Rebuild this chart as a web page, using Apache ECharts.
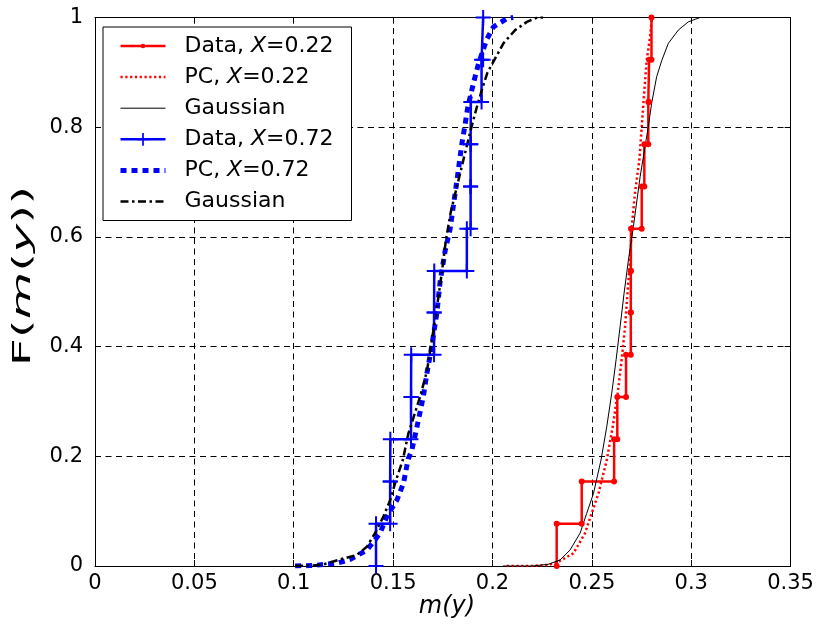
<!DOCTYPE html>
<html>
<head>
<meta charset="utf-8">
<script src="https://cdn.jsdelivr.net/npm/echarts@6/dist/echarts.min.js"></script>
<style>
  html, body { margin: 0; padding: 0; background: #ffffff; }
  #chart { width: 821px; height: 626px; }
</style>
</head>
<body>
<div id="chart"></div>
<script>
// Empirical CDF levels for 13 samples
const cdfLevels = [0, 0.077, 0.154, 0.231, 0.308, 0.385, 0.462, 0.538, 0.615, 0.692, 0.769, 0.846, 0.923, 1];

// Sorted sample values, X = 0.22 and X = 0.72
const dataX022 = [0.2323, 0.2449, 0.2612, 0.2628, 0.2672, 0.2696, 0.2696, 0.2697, 0.2751, 0.2764, 0.2784, 0.2788, 0.2800];
const dataX072 = [0.1414, 0.1485, 0.1486, 0.1590, 0.1591, 0.1706, 0.1707, 0.1871, 0.1890, 0.1890, 0.1891, 0.1945, 0.1953];

// Polynomial chaos CDF, X = 0.22
const pcX022 = [0.2072, 0.2200, 0.2280, 0.2323, 0.2407, 0.2466, 0.2499, 0.2533, 0.2575, 0.2605, 0.2630, 0.2650, 0.2667, 0.2679, 0.2692, 0.2701, 0.2717, 0.2739, 0.2751, 0.2763, 0.2776, 0.2793, 0.2801, 0.2810];
const pcF022 = [0, 0, 0.002, 0.006, 0.023, 0.060, 0.096, 0.132, 0.193, 0.254, 0.315, 0.376, 0.436, 0.497, 0.558, 0.619, 0.680, 0.740, 0.801, 0.862, 0.922, 0.965, 0.995, 1.0];

// Gaussian CDF, X = 0.22
const gaussX022 = [0.2053, 0.2200, 0.2280, 0.2340, 0.2390, 0.2441, 0.2474, 0.2508, 0.2546, 0.2575, 0.2600, 0.2622, 0.2642, 0.2662, 0.2684, 0.2709, 0.2743, 0.2784, 0.2801, 0.2826, 0.2852, 0.2885, 0.2935, 0.2985, 0.3044];
const gaussF022 = [0, 0, 0.003, 0.011, 0.029, 0.060, 0.096, 0.132, 0.193, 0.254, 0.315, 0.376, 0.436, 0.497, 0.558, 0.619, 0.710, 0.801, 0.844, 0.892, 0.922, 0.953, 0.977, 0.992, 1.0];

// Polynomial chaos CDF, X = 0.72
const pcX072 = [0.1007, 0.1100, 0.1217, 0.1284, 0.1368, 0.1435, 0.1468, 0.1519, 0.1552, 0.1576, 0.1594, 0.1615, 0.1652, 0.1670, 0.1694, 0.1720, 0.1737, 0.1762, 0.1787, 0.1820, 0.1846, 0.1860, 0.1875, 0.1904, 0.1929, 0.1971, 0.2005, 0.2072, 0.2104];
const pcF072 = [0, 0.001, 0.005, 0.012, 0.029, 0.060, 0.090, 0.120, 0.151, 0.195, 0.211, 0.245, 0.309, 0.351, 0.400, 0.461, 0.520, 0.575, 0.615, 0.700, 0.770, 0.800, 0.835, 0.880, 0.915, 0.960, 0.983, 0.998, 1.0];

// Gaussian CDF, X = 0.72
const gaussX072 = [0.1007, 0.1100, 0.1150, 0.1233, 0.1317, 0.1368, 0.1409, 0.1451, 0.1485, 0.1510, 0.1550, 0.1577, 0.1602, 0.1636, 0.1670, 0.1692, 0.1720, 0.1745, 0.1766, 0.1790, 0.1820, 0.1850, 0.1875, 0.1894, 0.1920, 0.1950, 0.1975, 0.2013, 0.2055, 0.2114, 0.2173, 0.2225, 0.2254];
const gaussF072 = [0, 0.001, 0.003, 0.012, 0.020, 0.035, 0.060, 0.090, 0.120, 0.151, 0.195, 0.242, 0.270, 0.309, 0.355, 0.405, 0.470, 0.535, 0.595, 0.645, 0.690, 0.735, 0.772, 0.800, 0.835, 0.872, 0.900, 0.925, 0.953, 0.977, 0.992, 1.0, 1.0];

// Axis ticks
const xTicks = [0, 0.05, 0.1, 0.15, 0.2, 0.25, 0.3, 0.35];
const yTicks = [0, 0.2, 0.4, 0.6, 0.8, 1];

// Staircase corners of an empirical CDF: a vertical jump at every sample
function stairs(xs, levels) {
  const pts = [];
  xs.forEach((x, i) => {
    pts.push([x, levels[i]]);
    pts.push([x, levels[i + 1]]);
  });
  return pts;
}
function pairs(xs, fs) {
  return xs.map((x, i) => [x, fs[i]]);
}

// Marker shapes: small dot with padding around it, and a plus sign
const dotSymbol = 'path://M0,0M20,20M10,6.5a3.5,3.5 0 1,1 0,7a3.5,3.5 0 1,1 0,-7z';
const plusSymbol = 'path://M6.5,0h2v6.5h6.5v2h-6.5v6.5h-2v-6.5h-6.5v-2h6.5z';

const FONT = 'DejaVu Sans';
const RED = '#ff0000';
const BLUE = '#0000ff';

const chart = echarts.init(document.getElementById('chart'), null, { renderer: 'canvas' });

const labelStyle = { fontFamily: FONT, fontSize: 21, color: '#000' };

chart.setOption({
  backgroundColor: '#ffffff',
  animation: false,
  grid: { left: 95, right: 30.4, top: 17.5, bottom: 60, containLabel: false },
  xAxis: [
    {
      type: 'value', min: xTicks[0], max: xTicks[xTicks.length - 1], interval: 0.05,
      axisLine: { show: true, onZero: false, lineStyle: { color: '#000', width: 1 } },
      axisTick: { show: true, inside: true, length: 6, lineStyle: { color: '#000' } },
      axisLabel: Object.assign({ margin: 7 }, labelStyle),
      splitLine: { show: true, lineStyle: { color: '#000', width: 1, type: [6, 4.5] } }
    },
    {
      type: 'value', position: 'top', min: xTicks[0], max: xTicks[xTicks.length - 1], interval: 0.05,
      axisLine: { show: true, onZero: false, lineStyle: { color: '#000', width: 1 } },
      axisTick: { show: true, inside: true, length: 6, lineStyle: { color: '#000' } },
      axisLabel: { show: false },
      splitLine: { show: false }
    }
  ],
  yAxis: [
    {
      type: 'value', min: yTicks[0], max: yTicks[yTicks.length - 1], interval: 0.2,
      axisLine: { show: true, onZero: false, lineStyle: { color: '#000', width: 1 } },
      axisTick: { show: true, inside: true, length: 6, lineStyle: { color: '#000' } },
      axisLabel: Object.assign({ margin: 12 }, labelStyle),
      splitLine: { show: true, lineStyle: { color: '#000', width: 1, type: [6, 4.5] } }
    },
    {
      type: 'value', position: 'right', min: yTicks[0], max: yTicks[yTicks.length - 1], interval: 0.2,
      axisLine: { show: true, onZero: false, lineStyle: { color: '#000', width: 1 } },
      axisTick: { show: true, inside: true, length: 6, lineStyle: { color: '#000' } },
      axisLabel: { show: false },
      splitLine: { show: false }
    }
  ],
  legend: {
    orient: 'vertical',
    left: 103, top: 27,
    padding: [8, 18, 8, 15],
    itemWidth: 45, itemHeight: 16, itemGap: 9.1,
    backgroundColor: '#ffffff',
    borderColor: '#000', borderWidth: 1, borderRadius: 0,
    selectedMode: false,
    data: [
      { name: 'Data, X=0.22', lineStyle: { width: 2.5 } },
      { name: 'PC, X=0.22', lineStyle: { width: 2.5 }, itemStyle: { opacity: 0 } },
      { name: 'Gaussian', lineStyle: { width: 1 }, itemStyle: { opacity: 0 } },
      { name: 'Data, X=0.72', lineStyle: { width: 2.5 } },
      { name: 'PC, X=0.72', lineStyle: { width: 5 }, itemStyle: { opacity: 0 } },
      { name: 'Gaussian ', lineStyle: { width: 2.5 }, itemStyle: { opacity: 0 } }
    ],
    formatter: function (name) {
      const t = name.trim();
      const m = t.match(/^(.*)X(=.*)$/);
      return m ? '{n|' + m[1] + '}{i|X}{n|' + m[2] + '}' : '{n|' + t + '}';
    },
    textStyle: {
      padding: [0, 0, 0, 14],
      rich: {
        n: { fontFamily: FONT, fontSize: 22, lineHeight: 22, color: '#000' },
        i: { fontFamily: FONT, fontSize: 22, lineHeight: 22, fontStyle: 'italic', color: '#000' }
      }
    }
  },
  graphic: [
    {
      type: 'text', x: 24, y: 276, rotation: Math.PI / 2, scaleX: 2.03, scaleY: 1,
      style: {
        text: '{n|F(}{i|m}{n|(}{i|y}{n|))}',
        align: 'center', verticalAlign: 'middle',
        rich: {
          n: { fontFamily: FONT, fontSize: 24, fill: '#000' },
          i: { fontFamily: FONT, fontSize: 24, fontStyle: 'italic', fill: '#000' }
        }
      }
    },
    {
      type: 'text', x: 447, y: 607,
      style: {
        text: 'm(y)', fontFamily: FONT, fontSize: 24, fontStyle: 'italic', fill: '#000',
        align: 'center', verticalAlign: 'middle'
      }
    }
  ],
  series: [
    {
      name: 'Data, X=0.22', type: 'line', data: stairs(dataX022, cdfLevels),
      symbol: dotSymbol, symbolSize: 17, showSymbol: true,
      lineStyle: { color: RED, width: 2.5 }, itemStyle: { color: RED },
      emphasis: { disabled: true }
    },
    {
      name: 'PC, X=0.22', type: 'line', data: pairs(pcX022, pcF022),
      symbol: 'none', smooth: false,
      lineStyle: { color: RED, width: 2.5, type: [2.2, 2.6] }, itemStyle: { color: RED },
      emphasis: { disabled: true }
    },
    {
      name: 'Gaussian', type: 'line', data: pairs(gaussX022, gaussF022),
      symbol: 'none',
      lineStyle: { color: '#000', width: 1 }, itemStyle: { color: '#000' },
      emphasis: { disabled: true }
    },
    {
      name: 'Data, X=0.72', type: 'line', data: stairs(dataX072, cdfLevels),
      symbol: plusSymbol, symbolSize: 15, showSymbol: true,
      lineStyle: { color: BLUE, width: 2.5 }, itemStyle: { color: BLUE },
      emphasis: { disabled: true }
    },
    {
      name: 'PC, X=0.72', type: 'line', data: pairs(pcX072, pcF072),
      symbol: 'none',
      lineStyle: { color: BLUE, width: 5, type: [6, 5] }, itemStyle: { color: BLUE },
      emphasis: { disabled: true }
    },
    {
      name: 'Gaussian ', type: 'line', data: pairs(gaussX072, gaussF072),
      symbol: 'none',
      lineStyle: { color: '#000', width: 2.5, type: [8, 3.5, 2.5, 3.5] }, itemStyle: { color: '#000' },
      emphasis: { disabled: true }
    }
  ]
});
</script>
</body>
</html>
